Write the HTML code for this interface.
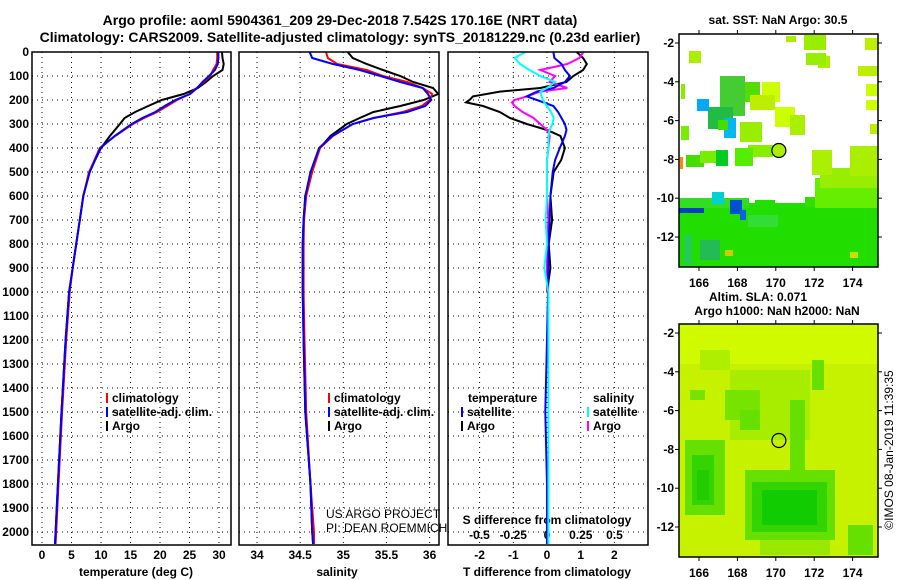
<!DOCTYPE html>
<html><head><meta charset="utf-8"><style>
html,body{margin:0;padding:0;background:#fff}
svg{display:block}
text{font-family:"Liberation Sans",sans-serif}
.b{font-weight:bold;font-size:12px}
</style></head><body>
<svg id="c" width="900" height="580" viewBox="0 0 900 580" xmlns="http://www.w3.org/2000/svg">
<text x="340" y="25" text-anchor="middle" style="font-weight:bold;font-size:14px">Argo profile: aoml 5904361_209 29-Dec-2018 7.542S 170.16E (NRT data)</text>
<text x="340" y="42" text-anchor="middle" style="font-weight:bold;font-size:14px">Climatology: CARS2009. Satellite-adjusted climatology: synTS_20181229.nc (0.23d earlier)</text>
<text x="778" y="24" text-anchor="middle" class="b">sat. SST: NaN Argo: 30.5</text>
<text x="758" y="301" text-anchor="middle" class="b">Altim. SLA: 0.071</text>
<text x="777" y="315" text-anchor="middle" class="b">Argo h1000: NaN h2000: NaN</text>
<text transform="translate(893,450) rotate(-90)" text-anchor="middle" style="font-size:12px">©IMOS 08-Jan-2019 11:39:35</text>
<text x="326" y="518" style="font-size:12px">US ARGO PROJECT</text>
<text x="326" y="532" style="font-size:12px">PI: DEAN ROEMMICH</text>
</svg>
<script>
// ---- data ----
const depthTicks=[0,100,200,300,400,500,600,700,800,900,1000,1100,1200,1300,1400,1500,1600,1700,1800,1900,2000];
const tempTicks=[0,5,10,15,20,25,30];
const salTicks=[34,34.5,35,35.5,36];
const tdiffTicks=[-2,-1,0,1,2];
const sdiffTicks=[-0.5,-0.25,0,0.25,0.5];
const depths=[0,25,50,75,100,125,150,175,200,225,250,275,300,350,400,500,600,700,800,900,1000,1200,1500,1800,2000,2050];
const tempClim=[29.7,29.7,29.6,29.0,28.5,27.4,26.2,25.0,22.9,21.2,19.5,17.3,15.4,12.4,9.8,8.0,7.0,6.4,5.8,5.2,4.7,4.1,3.4,2.8,2.4,2.3];
const tempSat=[29.9,29.9,29.8,29.3,28.3,27.2,26.3,25.1,22.6,20.8,19.2,17.0,15.2,12.3,9.9,8.1,7.0,6.4,5.8,5.2,4.6,4.0,3.3,2.7,2.3,2.2];
const tempArgo=[30.5,30.6,30.8,30.6,29.0,27.8,26.4,24.0,20.3,18.0,15.8,14.0,13.2,11.5,10.0,8.0,7.0,6.4,5.8,5.2,4.6,4.0,3.3,2.7,2.3,2.2];
const salClim=[34.80,34.82,34.93,35.27,35.46,35.74,35.92,36.03,36.00,35.91,35.69,35.35,35.11,34.88,34.73,34.64,34.57,34.545,34.54,34.54,34.54,34.55,34.57,34.62,34.66,34.66];
const salSat=[34.61,34.64,34.88,35.19,35.43,35.66,35.92,35.98,36.02,35.95,35.74,35.35,35.11,34.87,34.72,34.62,34.56,34.54,34.53,34.53,34.53,34.54,34.56,34.62,34.64,34.65];
const salArgo=[35.05,35.11,35.27,35.46,35.66,35.81,36.04,36.10,35.93,35.66,35.35,35.19,35.04,34.85,34.73,34.63,34.56,34.54,34.53,34.53,34.53,34.54,34.56,34.62,34.64,34.65];
const ddepths=[0,25,50,75,100,125,150,165,185,200,210,225,250,275,300,325,350,400,450,500,600,700,800,900,1000,1200,1500,1800,2000,2050];
const tdiffSat=[0.19,0.22,0.43,0.53,0.68,0.53,0.19,-0.3,-0.6,-0.3,-0.1,0.19,0.33,0.43,0.53,0.58,0.53,0.38,0.24,0.17,0.1,0.08,0.05,0.04,0.03,0.0,-0.05,0.0,0.0,0.0];
const tdiffArgo=[0.88,1.07,1.18,1.07,0.78,0.58,-0.2,-1.4,-2.2,-2.3,-2.4,-1.9,-1.4,-1.1,-0.6,0.0,0.4,0.53,0.42,0.2,0.1,0.15,0.05,0.1,0.0];
const sdiffSat=[-0.16,-0.24,-0.2,-0.13,-0.05,0.06,0.0,-0.05,-0.04,-0.03,-0.02,0.0,0.03,0.05,0.04,0.02,0.01,0.01,0.0,0.0,0.0,-0.01,0.0,-0.02,0.01,0.01,0.01,0.01,0.01,0.01];
const sdiffArgo=[0.27,0.24,0.15,-0.05,0.06,0.02,0.15,-0.05,-0.15,-0.24,-0.26,-0.24,-0.18,-0.1,-0.05,0.0,0.02,0.01,0.0,0.0,0.0,0.01,0.0,0.0,0.0];
const lonTicks=[166,168,170,172,174];
const latTicks=[-2,-4,-6,-8,-10,-12];
const floatLon=170.16, floatLat=-7.542;

// ---- axes ----
const yD=d=>52+d*0.24;
const xT=t=>42+t*5.9;
const xS=s=>257+(s-34)*86.3;
const xD=v=>547+v*33.7;
const xDS=v=>547+v*135;
const xLon=l=>699+(l-166)*19.2;
const yLat=(l,top)=>top+9+(-2-l)*19.4;

const NS='http://www.w3.org/2000/svg';
const svg=document.getElementById('c');
function mk(tag,attrs,parent){const e=document.createElementNS(NS,tag);for(const k in attrs)e.setAttribute(k,attrs[k]);(parent||svg).appendChild(e);return e;}
function txt(x,y,s,anchor,cls){const t=mk('text',{x:x,y:y,'text-anchor':anchor||'middle','class':cls||'b'});t.textContent=s;return t;}

const PT=52, PB=545;
const panels=[{l:32,r:231,n:'temperature'},{l:239,r:439,n:'salinity'},{l:448,r:648,n:'difference'}];
panels.forEach(p=>{
  const g=mk('g',{});
  
  
  depthTicks.forEach(d=>{const l=mk('line',{x1:p.l,x2:p.r,y1:yD(d),y2:yD(d),stroke:'#000','stroke-width':1,'stroke-dasharray':'1,4'},g);
    });
  p.g=g;
});
function vgrid(p,xs){xs.forEach(x=>{const l=mk('line',{x1:x,x2:x,y1:PT,y2:PB,stroke:'#000','stroke-width':1,'stroke-dasharray':'1,4'},p.g);
  });}
vgrid(panels[0],tempTicks.map(xT));
vgrid(panels[1],salTicks.map(xS));
vgrid(panels[2],tdiffTicks.map(xD));
// depth labels
depthTicks.forEach(d=>{const t=txt(29,yD(d)+4,String(d),'end');
  });
tempTicks.forEach(v=>{const t=txt(xT(v),559,String(v));});
salTicks.forEach(v=>{const t=txt(xS(v),559,String(v));});
tdiffTicks.forEach(v=>{const t=txt(xD(v),559,String(v));});
sdiffTicks.forEach(v=>{const t=txt(xDS(v),539,String(v));});
let t;
t=txt(136,576,'temperature (deg C)');
t=txt(337,576,'salinity');
t=txt(547,576,'T difference from climatology');
t=txt(547,524,'S difference from climatology');

function line(xs,ds,xf,color,name,w){
  const pts=xs.map((v,i)=>xf(v).toFixed(1)+','+yD(ds[i]).toFixed(1)).join(' ');
  const e=mk('polyline',{points:pts,fill:'none',stroke:color,'stroke-width':w||2});
  
  
}
line(tempArgo,depths,xT,'#000','temperature-argo-line');
line(tempClim,depths,xT,'#f00','temperature-climatology-line');
line(tempSat,depths,xT,'#00f','temperature-satellite-line');
line(salArgo,depths,xS,'#000','salinity-argo-line');
line(salClim,depths,xS,'#f00','salinity-climatology-line');
line(salSat,depths,xS,'#00f','salinity-satellite-line');
line(tdiffArgo,ddepths,xD,'#000','tdiff-argo-line');
line(sdiffArgo,ddepths,xDS,'#f0f','sdiff-argo-line');
line(tdiffSat,ddepths,xD,'#00f','tdiff-satellite-line');
line(sdiffSat,ddepths,xDS,'#0ff','sdiff-satellite-line');

// frames
panels.forEach(p=>{const r=mk('rect',{x:p.l,y:PT,width:p.r-p.l,height:PB-PT,fill:'none',stroke:'#000','stroke-width':1.5});
  });

// legends
function leg(x,y,color,label,name){
  const g=mk('g',{});
  
  
  if(color)mk('rect',{x:x,y:y-9,width:2,height:10,fill:color},g);
  const tt=mk('text',{x:x+6,y:y,'class':'b'},g);tt.textContent=label;
}
leg(106,402,'#f00','climatology','legend-entry-climatology');
leg(106,416,'#00f','satellite-adj. clim.','legend-entry-satellite');
leg(106,430,'#000','Argo','legend-entry-argo');
leg(328,402,'#f00','climatology','legend-entry-climatology');
leg(328,416,'#00f','satellite-adj. clim.','legend-entry-satellite');
leg(328,430,'#000','Argo','legend-entry-argo');
leg(462,402,null,'temperature','legend-header-temperature');
leg(461,416,'#00f','satellite','legend-entry-t-satellite');
leg(461,430,'#000','Argo','legend-entry-t-argo');
leg(587,402,null,'salinity','legend-header-salinity');
leg(587,416,'#0ff','satellite','legend-entry-s-satellite');
leg(587,430,'#f0f','Argo','legend-entry-s-argo');

// ---- maps ----
const ML=679, MR=878;
function map(top,name,bg,rects,circFill){
  const g=mk('g',{});
  
  
  const cp=mk('clipPath',{id:name+'-clip'},g);mk('rect',{x:ML,y:top,width:MR-ML,height:233},cp);
  const inner=mk('g',{'clip-path':'url(#'+name+'-clip)'},g);
  mk('rect',{x:ML,y:top,width:MR-ML,height:233,fill:bg},inner);
  rects.forEach(r=>mk('rect',{x:r[0],y:r[1]+top-34,width:r[2],height:r[3],fill:r[4]},inner));
  const c=mk('circle',{cx:xLon(floatLon),cy:yLat(floatLat,top),r:7,fill:circFill,stroke:'#000','stroke-width':1.2},g);
  
  mk('rect',{x:ML,y:top,width:MR-ML,height:233,fill:'none',stroke:'#000','stroke-width':1.5},g);
  lonTicks.forEach(l=>{const x=xLon(l);mk('line',{x1:x,x2:x,y1:top,y2:top-4,stroke:'#000'},g);mk('line',{x1:x,x2:x,y1:top+233,y2:top+237,stroke:'#000'},g);
    const tt=txt(x,top+253,String(l));});
  latTicks.forEach(l=>{const y=yLat(l,top);mk('line',{x1:ML-4,x2:ML,y1:y,y2:y,stroke:'#000'},g);mk('line',{x1:MR,x2:MR+4,y1:y,y2:y,stroke:'#000'},g);
    const tt=txt(674,y+4,String(l),'end');});
}
map(34,'sst-map','#fff',[
 [679,203,199,64,'#22dd00'],[679,198,70,10,'#33dd22'],[679,208,25,5,'#0040c0'],[730,200,12,14,'#0050d0'],[740,210,6,10,'#1060e0'],
 [712,192,12,12,'#00d0d0'],[684,235,8,30,'#22cc55'],[700,240,20,20,'#22bb55'],[748,215,30,12,'#33dd33'],
 [755,200,20,12,'#22dd00'],[805,197,30,10,'#33dd00'],[815,178,63,30,'#66ee00'],[820,168,58,20,'#99ee00'],[850,146,28,30,'#aaee00'],
 [812,150,20,25,'#aaf000'],[725,250,8,6,'#cccc00'],[850,252,8,6,'#ccdd00'],
 [720,76,25,40,'#44cc33'],[708,107,25,22,'#22bb44'],[697,99,12,12,'#00a8ff'],[724,118,12,20,'#00b8f0'],[718,120,10,10,'#44dd00'],
 [689,51,12,12,'#aaee00'],[681,84,4,15,'#88ee00'],[681,126,8,14,'#77ee00'],[745,82,15,20,'#55dd00'],
 [762,82,18,20,'#ccff00'],[775,107,20,20,'#ccff00'],[750,95,25,15,'#bbee00'],[740,122,22,20,'#99ee00'],[748,145,25,12,'#88ee00'],
 [790,115,15,20,'#aaee00'],[818,56,12,12,'#aaee00'],[804,35,22,15,'#99ee00'],[786,36,10,6,'#aaee00'],[806,53,20,12,'#99ee00'],
 [865,38,13,12,'#bbee00'],[858,66,20,10,'#bbee00'],[866,84,12,12,'#ccff00'],[866,100,12,10,'#ccff00'],[870,124,8,10,'#bbee00'],
 [686,155,18,12,'#44dd00'],[700,151,25,12,'#77ee00'],[716,150,12,16,'#00cc22'],[735,148,18,18,'#55ee00'],[680,157,3,12,'#ff8800']
],'#aaee00');
map(324,'sla-map','#c6f200',[
 [679,34,199,40,'#d0fa00'],[700,60,30,20,'#b0ee00'],[730,80,80,70,'#a8ec00'],[690,100,15,10,'#77e400'],
 [725,100,35,30,'#77e400'],[740,120,20,20,'#66e000'],[790,110,15,75,'#66e000'],[812,70,12,30,'#66e000'],
 [685,150,40,75,'#66e000'],[692,165,22,50,'#33d400'],[697,180,12,30,'#22cc00'],
 [745,180,90,70,'#66e000'],[752,192,75,50,'#33d400'],[762,200,55,35,'#11cc00'],
 [848,235,25,30,'#66e000'],[760,250,70,15,'#99e800']
],'none');
</script>
</body></html>
